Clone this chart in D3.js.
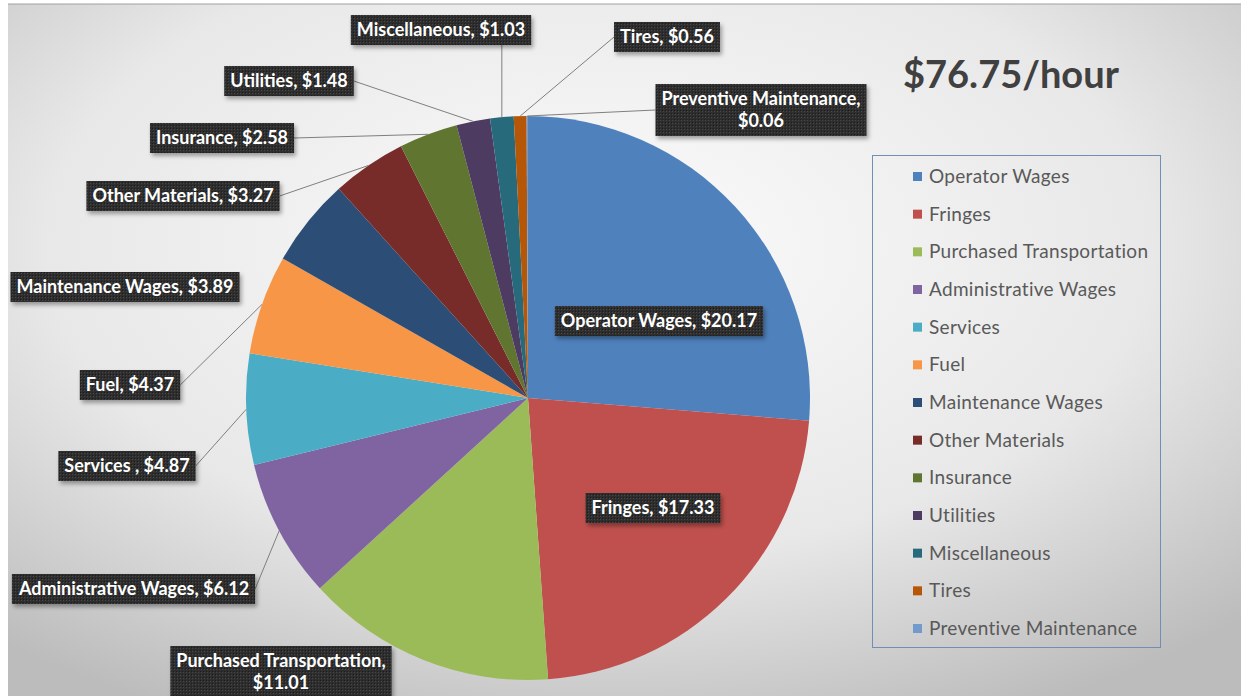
<!DOCTYPE html>
<meta charset="utf-8">
<style>
body { margin: 0; background: #fff; }
.lbl text { font: bold 18px Lato, sans-serif; fill: #fff; }
.legend text { font: 19px Lato, sans-serif; fill: #595959; letter-spacing: 0.3px; }
.title { font: bold 38px Lato, sans-serif; fill: #404040; }
</style>
<svg width="1241" height="696"></svg>
<script src="https://d3js.org/d3.v7.min.js"></script>
<script>

// cost per hour by category
var categories = ["Operator Wages", "Fringes", "Purchased Transportation", "Administrative Wages",
  "Services", "Fuel", "Maintenance Wages", "Other Materials", "Insurance", "Utilities",
  "Miscellaneous", "Tires", "Preventive Maintenance"];
var values = [20.17, 17.33, 11.01, 6.12, 4.87, 4.37, 3.89, 3.27, 2.58, 1.48, 1.03, 0.56, 0.06];
var labels = [
  ["Operator Wages, $20.17"], ["Fringes, $17.33"], ["Purchased Transportation,", "$11.01"],
  ["Administrative Wages, $6.12"], ["Services , $4.87"], ["Fuel, $4.37"],
  ["Maintenance Wages, $3.89"], ["Other Materials, $3.27"], ["Insurance, $2.58"],
  ["Utilities, $1.48"], ["Miscellaneous, $1.03"], ["Tires, $0.56"],
  ["Preventive Maintenance,", "$0.06"]];
var colors = ["#4f81bd", "#c0504d", "#9bbb59", "#8064a2", "#4bacc6", "#f79646", "#2c4d75",
  "#772c2a", "#5f7530", "#4d3b62", "#276a7c", "#b65708", "#729aca"];

// label box centres (layout) and whether a leader line is drawn
var labelPos = [[659, 321], [653, 508], [281, 672], [134, 589], [127, 466], [130, 385],
  [125, 287], [183, 196], [222, 138], [289, 81], [441, 30], [667, 37], [761, 110]];
var leader = [0, 0, 0, 1, 1, 1, 0, 1, 1, 1, 1, 1, 1];
var total = "$76.75/hour";

var svg = d3.select("svg"),
    cx = 528, cy = 398, r = 282,
    lh = 22;

var defs = svg.append("defs");
var bg = defs.append("radialGradient").attr("id", "bg")
    .attr("cx", "0.48").attr("cy", "0.35").attr("r", "0.75");
bg.append("stop").attr("offset", "0").attr("stop-color", "#fbfbfb");
bg.append("stop").attr("offset", "0.6").attr("stop-color", "#e8e8e8");
bg.append("stop").attr("offset", "1").attr("stop-color", "#bcbcbc");

var pat = defs.append("pattern").attr("id", "hatch")
    .attr("width", 3).attr("height", 3).attr("patternUnits", "userSpaceOnUse");
pat.append("rect").attr("width", 3).attr("height", 3).attr("fill", "#2e2e2e");
pat.append("rect").attr("width", 1).attr("height", 1).attr("fill", "#474747");
pat.append("rect").attr("x", 2).attr("y", 2).attr("width", 1).attr("height", 1).attr("fill", "#1f1f1f");

var sh = defs.append("filter").attr("id", "shadow").attr("x", "-10%").attr("y", "-20%")
    .attr("width", "130%").attr("height", "160%");
sh.append("feDropShadow").attr("dx", 2).attr("dy", 3).attr("stdDeviation", 2)
    .attr("flood-color", "#000").attr("flood-opacity", 0.35);

svg.append("rect").attr("x", 8).attr("y", 4).attr("width", 1233).attr("height", 692)
    .attr("fill", "url(#bg)");
svg.append("line").attr("x1", 8).attr("x2", 1241).attr("y1", 4).attr("y2", 4)
    .attr("stroke", "#a0a0a0");

var pie = d3.pie().sort(null).value(function(d) { return d; });
var arcs = pie(values);
var arc = d3.arc().innerRadius(0).outerRadius(r);

var g = svg.append("g").attr("transform", "translate(" + cx + "," + cy + ")");
g.selectAll("path")
  .data(arcs)
  .enter().append("path")
    .attr("d", arc)
    .attr("fill", function(d, i) { return colors[i]; });

// labels
var lg = svg.append("g");
arcs.forEach(function(d, i) {
  var lines = labels[i];
  var grp = lg.append("g").attr("class", "lbl");
  var t = grp.append("text").attr("text-anchor", "middle");
  lines.forEach(function(s, j) {
    t.append("tspan").attr("x", labelPos[i][0])
      .attr("y", labelPos[i][1] + (j - (lines.length - 1) / 2) * lh + 6)
      .text(s);
  });
  var bb = t.node().getBBox();
  var bx = bb.x - 6, by = labelPos[i][1] - lines.length * lh / 2 - 4,
      bw = bb.width + 12, bh = lines.length * lh + 8;
  grp.insert("rect", "text")
    .attr("x", bx).attr("y", by).attr("width", bw).attr("height", bh)
    .attr("fill", "url(#hatch)").attr("filter", "url(#shadow)");

  if (leader[i]) {
    var a = (d.startAngle + d.endAngle) / 2;
    var px = cx + r * Math.sin(a), py = cy - r * Math.cos(a);
    var qx, qy;
    if (px < bx || px > bx + bw) {
      qx = px < bx ? bx : bx + bw;
      qy = by + bh / 2;
    } else {
      qx = px;
      qy = py > by + bh ? by + bh : by;
    }
    lg.insert("line", "g")
      .attr("x1", px).attr("y1", py).attr("x2", qx).attr("y2", qy)
      .attr("stroke", "#7f7f7f").attr("stroke-width", 1);
  }
});

svg.append("text").attr("class", "title")
  .attr("x", 903).attr("y", 88).text(total);

// legend
var leg = svg.append("g").attr("class", "legend");
leg.append("rect").attr("x", 872.5).attr("y", 155.5).attr("width", 288).attr("height", 492)
  .attr("fill", "none").attr("stroke", "#6f8fb5").attr("stroke-width", 1);

var ly = d3.scalePoint().domain(categories).range([176, 628]);
var item = leg.selectAll("g.item")
  .data(categories)
  .enter().append("g").attr("class", "item")
    .attr("transform", function(d) { return "translate(0," + ly(d) + ")"; });
item.append("rect").attr("x", 913).attr("y", -4).attr("width", 9).attr("height", 9)
  .attr("fill", function(d, i) { return colors[i]; });
item.append("text").attr("x", 929).attr("y", 7).text(function(d) { return d; });

</script>
